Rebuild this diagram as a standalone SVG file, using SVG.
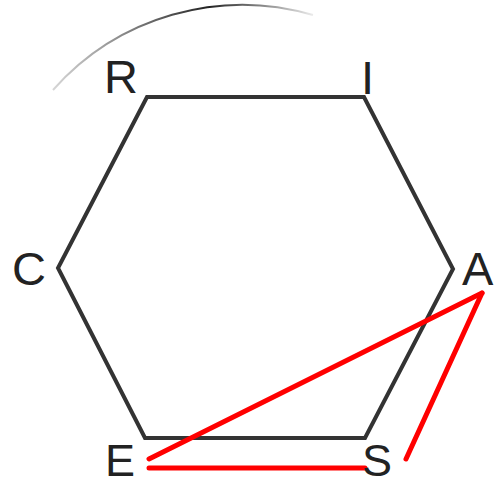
<svg xmlns="http://www.w3.org/2000/svg" width="501" height="486" viewBox="0 0 501 486">
<style>
.lbl{font-family:"Liberation Sans",Arial,sans-serif;font-size:47px;fill:#222}
.hex{fill:none;stroke:#333;stroke-width:4;stroke-linejoin:miter}
.red{fill:none;stroke:#ff0000;stroke-width:5;stroke-linecap:round}
</style>
<defs>
<linearGradient id="arcg" gradientUnits="userSpaceOnUse" x1="53" y1="0" x2="313" y2="0">
<stop offset="0" stop-color="#333" stop-opacity="0.2"/>
<stop offset="0.6" stop-color="#222" stop-opacity="1"/>
<stop offset="0.8" stop-color="#333" stop-opacity="0.6"/>
<stop offset="1" stop-color="#333" stop-opacity="0.1"/>
</linearGradient>
</defs>
<rect width="501" height="486" fill="#fff"/>
<g id="arc">
<path d="M53,90 A253,253 0 0 1 313,15" fill="none" stroke="url(#arcg)" stroke-width="2"/>
</g>
<g id="hexagon">
<polygon class="hex" points="147,97 364,97 453,269 365,438 145,438 58,268"/>
</g>
<g id="connectors">
<line class="red" x1="149" y1="459" x2="482" y2="293"/>
<line class="red" x1="482" y1="293" x2="406" y2="459"/>
<line class="red" x1="149" y1="468" x2="365" y2="468"/>
</g>
<g id="node-R"><text class="lbl" x="104" y="93">R</text></g>
<g id="node-I"><text class="lbl" x="361" y="94">I</text></g>
<g id="node-C"><text class="lbl" x="12" y="285">C</text></g>
<g id="node-A"><text class="lbl" x="462" y="285">A</text></g>
<g id="node-E"><text class="lbl" x="105" y="476" style="font-size:45px">E</text></g>
<g id="node-S"><text class="lbl" x="362" y="476" style="font-size:45px">S</text></g>
</svg>
